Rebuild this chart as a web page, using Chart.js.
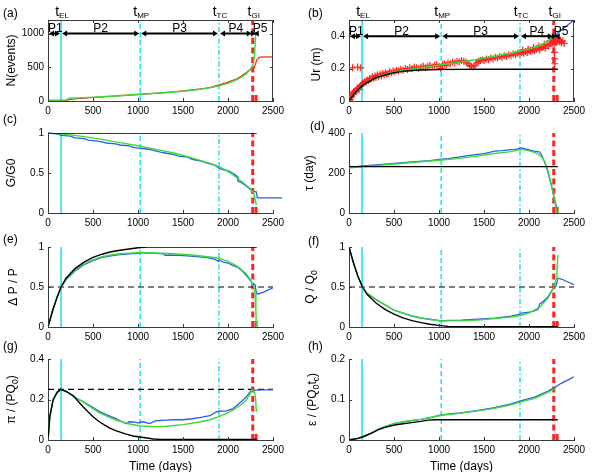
<!DOCTYPE html>
<html><head><meta charset="utf-8">
<script src="https://cdn.jsdelivr.net/npm/chart.js@4.4.1/dist/chart.umd.min.js"></script>
<style>html,body{margin:0;padding:0;background:#fff}body{width:594px;height:472px;position:relative;overflow:hidden}canvas{position:absolute}</style>
</head><body>
<script>
// ---------------- data ----------------
const xTicks = [0, 500, 1000, 1500, 2000, 2500];
const eventT = [145, 1025, 1900, 2275];
const eventNames = ['EL', 'MP', 'TC', 'GI'];
const gi2T = 2312;
const phaseB = [0, 145, 1025, 1900, 2275, 2320];
const phaseNames = ['P1', 'P2', 'P3', 'P4', 'P5'];

// (a) number of events
const aObsT = [0,100,200,250,300,400,500,600,700,800,900,1000,1100,1200,1300,1400,1500,1600,1700,1800,1900,2000,2100,2150,2200,2250,2290,2322,2352,2500];
const aObsN = [0,3,10,22,30,42,52,60,70,80,88,95,105,115,125,137,150,165,180,200,240,280,330,370,420,470,490,613,651,655];
const aModT = [0,20,200,240,400,600,800,1000,1200,1400,1600,1800,1900,2000,2100,2150,2200,2240,2278,2296,2307];
const aModN = [0,12,15,40,50,62,78,100,115,133,158,195,225,262,315,355,400,455,530,700,1000];
const aTicks = [0, 500, 1000];

// (b) radial displacement
const bObsT = [5,10,15,20,30,35,45,50,60,70,80,90,100,110,120,130,140,150,40,95,130,
160,175,190,200,215,230,245,260,275,290,300,315,330,345,360,375,390,405,420,435,450,470,490,
510,530,550,575,600,625,650,675,700,725,750,775,800,825,850,875,900,925,950,975,1000,1020,
1040,1060,1080,1100,1125,1150,1175,1200,1225,1250,1275,1300,1320,1340,1360,1380,1400,1420,1440,1460,1480,1500,
1525,1550,1575,1600,1625,1650,1675,1700,1725,1750,1775,1800,1825,1850,1875,1900,
1920,1940,1960,1980,2000,2020,2040,2060,2080,2100,2120,2140,2160,2180,2200,2220,2240,2260,
1930,1990,2050,2110,2170,2230,2250,
2270,2280,2282,2284,2286,2290,2300,2310,2320,2330,2340,2350,2360,2375,2390];
const bObsU = [0.005,0.02,0.01,0.03,0.025,0.045,0.04,0.055,0.05,0.065,0.06,0.075,0.08,0.07,0.09,0.095,0.1,0.105,0.205,0.21,0.205,
0.11,0.12,0.115,0.13,0.125,0.14,0.135,0.15,0.14,0.155,0.145,0.16,0.15,0.165,0.155,0.17,0.16,0.175,0.165,0.17,0.18,0.175,0.185,
0.18,0.19,0.185,0.195,0.19,0.2,0.195,0.205,0.2,0.21,0.205,0.2,0.21,0.215,0.205,0.215,0.22,0.21,0.22,0.225,0.215,0.2,
0.225,0.23,0.22,0.235,0.23,0.24,0.235,0.245,0.24,0.25,0.245,0.24,0.23,0.22,0.215,0.21,0.22,0.235,0.245,0.25,0.255,0.25,
0.26,0.255,0.265,0.26,0.27,0.265,0.275,0.27,0.28,0.275,0.285,0.28,0.29,0.285,0.295,0.29,
0.3,0.295,0.305,0.3,0.31,0.305,0.315,0.31,0.32,0.325,0.315,0.33,0.335,0.325,0.345,0.34,0.355,0.36,
0.315,0.32,0.33,0.34,0.35,0.37,0.375,
0.37,0.35,0.3,0.26,0.23,0.375,0.36,0.385,0.37,0.38,0.365,0.375,0.36,0.37,0.355];
const bBlackT = [0,50,100,150,200,300,400,500,600,700,800,900,1000,1200,1500,2000,2320];
const bBlackU = [0,0.038,0.07,0.095,0.114,0.144,0.161,0.175,0.183,0.188,0.191,0.193,0.194,0.195,0.196,0.196,0.196];
const bGreenT = [0,100,200,300,400,500,600,700,800,1000,1200,1400,1600,1800,1900,2000,2100,2200,2250,2290];
const bGreenU = [0,0.07,0.115,0.145,0.165,0.18,0.19,0.198,0.205,0.222,0.238,0.255,0.275,0.295,0.31,0.322,0.338,0.365,0.385,0.405];
const bBlueT = [2200,2250,2300,2400,2510];
const bBlueU = [0.365,0.388,0.41,0.455,0.505];
const bTicks = [0, 0.2, 0.4];

// (c) G/G0
const cBlackT = [0, 2320];
const cBlackG = [1, 1];
const cBlueT = [0,100,150,250,300,400,450,500,600,650,750,800,900,950,1000,1100,1150,1250,1300,1400,1450,1550,1600,1700,1750,1850,1900,1950,2000,2050,2100,2110,2150,2200,2250,2275,2315,2325,2600];
const cBlueG = [1,0.99,0.97,0.96,0.94,0.93,0.91,0.905,0.89,0.875,0.865,0.85,0.84,0.82,0.81,0.8,0.79,0.76,0.75,0.73,0.71,0.7,0.67,0.65,0.63,0.6,0.56,0.54,0.53,0.5,0.46,0.4,0.38,0.34,0.29,0.27,0.265,0.19,0.19];
const cGreenT = [0,200,400,600,800,1000,1200,1400,1600,1800,1900,2000,2100,2200,2250,2280,2300,2315];
const cGreenG = [1,0.985,0.955,0.92,0.88,0.84,0.795,0.75,0.69,0.62,0.58,0.52,0.44,0.35,0.3,0.26,0.18,0.1];
const cTicks = [0, 0.5, 1];

// (d) tau
const dBlackT = [0, 2320];
const dBlackV = [232, 232];
const dBlueT = [0,150,300,500,700,900,1000,1100,1250,1400,1500,1620,1700,1800,1850,1915,1950,2000,2060,2120,2140,2175,2210,2250,2285,2310];
const dBlueV = [227,235,240,248,255,262,268,272,282,292,297,309,312,317,318,326,322,316,309,304,290,253,203,135,68,20];
const dGreenT = [0,150,300,500,800,1000,1200,1400,1600,1800,1915,1990,2050,2100,2140,2175,2210,2250,2285,2311];
const dGreenV = [225,232,237,245,256,264,272,283,296,307,318,312,305,295,280,258,211,140,60,0];
const dTicks = [0, 200, 400];

// (e) dP/P
const eBlackT = [0,50,100,145,200,300,400,500,600,700,800,900,1000,1100,2320];
const eBlackV = [0,0.2,0.37,0.5,0.61,0.73,0.81,0.87,0.91,0.94,0.96,0.975,0.99,1,1];
const eGreenT = [0,50,100,145,200,300,400,500,600,700,800,1000,1200,1400,1600,1800,1900,2000,2100,2200,2250,2280,2300,2310,2315];
const eGreenV = [0,0.2,0.37,0.5,0.6,0.71,0.79,0.84,0.88,0.9,0.915,0.93,0.925,0.915,0.9,0.875,0.86,0.82,0.76,0.67,0.59,0.52,0.42,0.2,0];
const eBlueT = [0,50,100,145,200,300,400,500,600,700,800,900,1000,1050,1100,1200,1280,1300,1350,1450,1550,1650,1750,1850,1890,1900,1950,2000,2050,2100,2150,2200,2250,2280,2300,2315,2330,2400,2500];
const eBlueV = [0,0.2,0.37,0.5,0.59,0.7,0.78,0.83,0.87,0.89,0.905,0.915,0.92,0.93,0.925,0.92,0.915,0.895,0.9,0.895,0.89,0.88,0.87,0.85,0.82,0.84,0.81,0.8,0.77,0.75,0.71,0.65,0.58,0.53,0.53,0.43,0.41,0.44,0.49];
const eTicks = [0, 0.5, 1];

// (f) Q/Q0
const fBlackT = [0,50,100,150,200,300,400,500,600,700,800,900,1000,1100,1200,2320];
const fBlackV = [1,0.8,0.63,0.5,0.41,0.3,0.22,0.16,0.115,0.08,0.055,0.035,0.02,0.008,0.003,0.003];
const fGreenT = [0,50,100,150,200,320,500,700,880,1000,1250,1430,1620,1800,1915,2000,2060,2120,2175,2210,2250,2285,2300,2311,2322];
const fGreenV = [1,0.8,0.63,0.5,0.42,0.33,0.21,0.14,0.095,0.08,0.077,0.088,0.105,0.125,0.147,0.175,0.21,0.25,0.315,0.36,0.44,0.53,0.6,0.73,0.9];
const fBlueT = [0,50,100,150,200,320,500,700,800,880,950,1030,1100,1250,1430,1620,1800,1900,1915,2000,2063,2100,2119,2160,2211,2267,2290,2304,2322,2360,2500];
const fBlueV = [1,0.8,0.63,0.5,0.42,0.33,0.21,0.135,0.11,0.1,0.09,0.075,0.082,0.086,0.097,0.11,0.135,0.16,0.175,0.185,0.2,0.22,0.29,0.32,0.38,0.48,0.5,0.525,0.61,0.6,0.53];
const fTicks = [0, 0.5, 1];

// (g) pi/(PQ0)
const gBlackT = [0,20,56,100,141,200,278,389,500,574,680,759,860,944,1019,1100,1170,1250,2320];
const gBlackV = [0,0.115,0.197,0.235,0.25,0.24,0.22,0.164,0.115,0.089,0.06,0.045,0.03,0.02,0.015,0.01,0.005,0.003,0.003];
const gGreenT = [0,20,56,100,141,200,300,389,500,574,700,759,900,1019,1200,1315,1500,1685,1800,1907,2000,2056,2150,2204,2240,2267,2296,2307,2315];
const gGreenV = [0,0.115,0.197,0.235,0.25,0.24,0.21,0.188,0.155,0.134,0.108,0.098,0.08,0.069,0.066,0.068,0.076,0.089,0.1,0.117,0.135,0.147,0.175,0.197,0.225,0.25,0.233,0.205,0.139];
const gBlueT = [0,20,56,100,141,200,300,389,500,574,700,759,800,870,900,944,1000,1050,1130,1200,1315,1400,1500,1600,1685,1800,1870,1900,1981,2056,2150,2204,2267,2296,2333,2400,2500];
const gBlueV = [0,0.115,0.197,0.235,0.25,0.24,0.21,0.19,0.16,0.14,0.115,0.106,0.095,0.08,0.09,0.089,0.085,0.09,0.081,0.095,0.098,0.1,0.1,0.105,0.111,0.12,0.139,0.142,0.144,0.155,0.19,0.213,0.25,0.246,0.246,0.248,0.248];
const gRef = 0.25;
const gTicks = [0, 0.2, 0.4];

// (h) epsilon/(PQ0 tc)
const hBlackT = [0,100,156,250,322,400,507,600,693,800,878,950,2320];
const hBlackV = [0,0.004,0.008,0.017,0.025,0.031,0.037,0.04,0.043,0.046,0.049,0.05,0.05];
const hGreenT = [0,100,156,250,322,400,507,600,693,800,900,1026,1200,1433,1619,1800,1915,2063,2211,2285,2300];
const hGreenV = [0,0.004,0.008,0.017,0.026,0.033,0.041,0.045,0.048,0.051,0.055,0.061,0.065,0.072,0.078,0.087,0.094,0.103,0.118,0.127,0.129];
const hBlueT = [0,100,156,250,322,400,507,600,693,800,900,1026,1200,1433,1619,1800,1915,2063,2211,2285,2359,2430,2500];
const hBlueV = [0,0.004,0.008,0.017,0.026,0.033,0.041,0.045,0.048,0.051,0.055,0.062,0.066,0.073,0.08,0.089,0.097,0.106,0.121,0.13,0.14,0.148,0.156];
const hTicks = [0, 0.1, 0.2];

const halfRef = 0.5;

// ---------------- style ----------------
const FONT = '"Liberation Sans", Arial, Helvetica, sans-serif';
const CY = '#2fe0ec', RD = '#ff2222', GR = '#36dc36', BL = '#2d5ee6', BK = '#000000', AX = '#3a3a3a';

function pts(xs, ys) { return xs.map((x, i) => ({ x: x, y: ys[i] })); }
function ln(xs, ys, color, w, order, dash) {
  return { data: pts(xs, ys), borderColor: color, borderWidth: w, borderDash: dash || [], pointRadius: 0,
           fill: false, tension: 0, order: order, borderCapStyle: 'butt' };
}
function vl(x, y0, y1, color, w, dash) { return ln([x, x], [y0, y1], color, w, 20, dash); }
function hl(y, color, w, dash) { return ln([0, 2500], [y, y], color, w, 15, dash); }
function eventSets(ymin, ymax) {
  const span = ymax - ymin;
  return [
    vl(eventT[0], ymin, ymax, CY, 1.6, []),
    vl(eventT[1], ymin, ymax, CY, 1.6, [5, 3]),
    vl(eventT[2], ymin, ymax, CY, 1.6, [5, 2.5, 1.5, 2.5]),
    vl(eventT[3], ymin, ymax, RD, 3, [6, 3.5]),
    vl(gi2T, ymin, ymin + span * 0.085, RD, 3, [6, 3.5])
  ];
}

function drawRich(ctx, parts, x, y, size, subSize, subDy, align, rotate) {
  const widths = parts.map(p => { ctx.font = (p[1] ? subSize : size) + 'px ' + FONT; return ctx.measureText(p[0]).width; });
  const total = widths.reduce((a, b) => a + b, 0);
  ctx.save();
  ctx.translate(x, y);
  if (rotate) ctx.rotate(-Math.PI / 2);
  let cx = align === 'center' ? -total / 2 : (align === 'right' ? -total : 0);
  ctx.textAlign = 'left'; ctx.textBaseline = 'alphabetic'; ctx.fillStyle = '#000';
  parts.forEach((p, i) => {
    ctx.font = (p[1] ? subSize : size) + 'px ' + FONT;
    ctx.fillText(p[0], cx, p[1] ? subDy : 0);
    cx += widths[i];
  });
  ctx.restore();
}

const deco = {
  id: 'deco',
  afterDraw(chart) {
    const o = chart.options.plugins.deco;
    const ctx = chart.ctx, xs = chart.scales.x, ys = chart.scales.y, a = chart.chartArea;
    ctx.save();
    // inward tick marks
    ctx.strokeStyle = AX; ctx.lineWidth = 1;
    ctx.beginPath();
    xs.ticks.forEach(t => {
      const x = Math.round(xs.getPixelForValue(t.value)) + 0.5;
      ctx.moveTo(x, a.bottom); ctx.lineTo(x, a.bottom - 3);
      if (o.box) { ctx.moveTo(x, a.top); ctx.lineTo(x, a.top + 3); }
    });
    ys.ticks.forEach(t => {
      const y = Math.round(ys.getPixelForValue(t.value)) + 0.5;
      ctx.moveTo(a.left, y); ctx.lineTo(a.left + 3, y);
      if (o.box) { ctx.moveTo(a.right, y); ctx.lineTo(a.right - 3, y); }
    });
    if (o.box) {
      ctx.moveTo(a.left, Math.round(a.top) + 0.5); ctx.lineTo(a.right, Math.round(a.top) + 0.5);
      ctx.moveTo(Math.round(a.right) - 0.5, a.top); ctx.lineTo(Math.round(a.right) - 0.5, a.bottom);
    }
    ctx.stroke();
    // phase arrows
    if (o.arrowY !== undefined) {
      const py = ys.getPixelForValue(o.arrowY);
      ctx.fillStyle = '#000'; ctx.strokeStyle = '#000'; ctx.lineWidth = 2;
      for (let i = 0; i < phaseNames.length; i++) {
        const x0 = xs.getPixelForValue(phaseB[i]) + 1, x1 = xs.getPixelForValue(phaseB[i + 1]) - 1;
        ctx.beginPath(); ctx.moveTo(x0 + 3, py); ctx.lineTo(x1 - 3, py); ctx.stroke();
        ctx.beginPath(); ctx.moveTo(x0, py); ctx.lineTo(x0 + 5, py - 3); ctx.lineTo(x0 + 5, py + 3); ctx.closePath(); ctx.fill();
        ctx.beginPath(); ctx.moveTo(x1, py); ctx.lineTo(x1 - 5, py - 3); ctx.lineTo(x1 - 5, py + 3); ctx.closePath(); ctx.fill();
        ctx.font = '12px ' + FONT;
        const w = ctx.measureText(phaseNames[i]).width;
        const narrow = (x1 - x0) < w + 4;
        const lx = narrow ? x0 - 1 : (x0 + x1) / 2;
        drawRich(ctx, [[phaseNames[i], 0]], lx, py - 1.5, 12, 8, 0, narrow ? 'left' : 'center', false);
      }
    }
    // event labels
    if (o.events) {
      for (let i = 0; i < eventT.length; i++) {
        const x = xs.getPixelForValue(eventT[i]);
        drawRich(ctx, [['t', 0], [eventNames[i], 1]], x + 1, a.top - 4, 14, 8, 2, 'center', false);
      }
    }
    // y title
    drawRich(ctx, o.ytitle, a.left + o.ytx, (a.top + a.bottom) / 2 + (o.yty || 0), 12, 8.5, 3, 'center', true);
    // x title
    if (o.xtitle) drawRich(ctx, [['Time (days)', 0]], (a.left + a.right) / 2, a.bottom + 30, 12, 8, 0, 'center', false);
    // panel label
    drawRich(ctx, [[o.label, 0]], a.left + o.lx, a.top + o.ly, 12, 8, 0, 'left', false);
    ctx.restore();
  }
};

const PADL = 48, PADT = 28, PADR = 30, PADB = 34;
function makePanel(p) {
  const cv = document.createElement('canvas');
  const W = p.w + PADL + PADR, H = p.h + PADT + PADB;
  cv.width = W; cv.height = H;
  cv.style.width = W + 'px'; cv.style.height = H + 'px';
  cv.style.left = (p.l - PADL) + 'px'; cv.style.top = (p.t - PADT) + 'px';
  document.body.appendChild(cv);
  const tickFont = { family: FONT, size: 10 };
  new Chart(cv, {
    type: 'line',
    data: { datasets: p.datasets },
    options: {
      responsive: false, animation: false, devicePixelRatio: 1,
      layout: { padding: { left: 0, top: PADT, right: PADR, bottom: 0 } },
      scales: {
        x: {
          type: 'linear', min: 0, max: 2500,
          afterBuildTicks: s => { s.ticks = xTicks.map(v => ({ value: v })); },
          afterFit: s => { s.height = PADB; },
          grid: { display: false, drawTicks: false },
          border: { display: true, color: AX, width: 1 },
          ticks: { font: tickFont, color: '#000', padding: 4, maxRotation: 0, autoSkip: false, callback: v => String(v) }
        },
        y: {
          type: 'linear', min: p.ymin, max: p.ymax,
          afterBuildTicks: s => { s.ticks = p.yTicks.map(v => ({ value: v })); },
          afterFit: s => { s.width = PADL; },
          grid: { display: false, drawTicks: false },
          border: { display: true, color: AX, width: 1 },
          ticks: { font: tickFont, color: '#000', padding: 4, autoSkip: false, callback: v => String(v) }
        }
      },
      plugins: { legend: { display: false }, tooltip: { enabled: false }, deco: p.deco }
    },
    plugins: [deco]
  });
}

const LL = 48, RL = 349, PW = 225;
const ROW = [{ t: 20, h: 81 }, { t: 133, h: 80 }, { t: 247, h: 80 }, { t: 359, h: 81 }];
const crossSet = { data: pts(bObsT, bObsU), showLine: false, pointStyle: 'cross', pointRadius: 3.5, pointBorderColor: RD,
  pointBorderWidth: 1.2, borderColor: RD, order: 8 };

makePanel({ l: LL, t: ROW[0].t, w: PW, h: ROW[0].h, ymin: 0, ymax: 1200, yTicks: aTicks,
  datasets: [ln(aModT, aModN, GR, 1.4, 2), ln(aObsT, aObsN, RD, 1.2, 4)].concat(eventSets(0, 1200)),
  deco: { box: true, arrowY: 1000, events: true, ytitle: [['N(events)', 0]], ytx: -33, label: '(a)', lx: -45, ly: -3 } });

makePanel({ l: RL, t: ROW[0].t, w: PW, h: ROW[0].h, ymin: 0, ymax: 0.5, yTicks: bTicks,
  datasets: [ln(bBlackT, bBlackU, BK, 1.4, 1), ln(bGreenT, bGreenU, GR, 1.4, 2), ln(bBlueT, bBlueU, BL, 1.3, 3), crossSet].concat(eventSets(0, 0.5)),
  deco: { box: true, arrowY: 0.4, events: true, ytitle: [['Ur (m)', 0]], ytx: -29, yty: 4, label: '(b)', lx: -41, ly: -3 } });

makePanel({ l: LL, t: ROW[1].t, w: PW, h: ROW[1].h, ymin: 0, ymax: 1, yTicks: cTicks,
  datasets: [ln(cBlackT, cBlackG, BK, 1.4, 1), ln(cGreenT, cGreenG, GR, 1.4, 2), Object.assign(ln(cBlueT, cBlueG, BL, 1.3, 3), { clip: false })].concat(eventSets(0, 1)),
  deco: { box: false, ytitle: [['G/G0', 0]], ytx: -33, label: '(c)', lx: -45, ly: -10 } });

makePanel({ l: RL, t: ROW[1].t, w: PW, h: ROW[1].h, ymin: 0, ymax: 400, yTicks: dTicks,
  datasets: [ln(dBlackT, dBlackV, BK, 1.4, 1), ln(dGreenT, dGreenV, GR, 1.4, 2), ln(dBlueT, dBlueV, BL, 1.3, 3)].concat(eventSets(0, 400)),
  deco: { box: false, ytitle: [['τ (day)', 0]], ytx: -36, label: '(d)', lx: -39, ly: -3 } });

makePanel({ l: LL, t: ROW[2].t, w: PW, h: ROW[2].h, ymin: 0, ymax: 1, yTicks: eTicks,
  datasets: [ln(eBlackT, eBlackV, BK, 1.4, 1), ln(eGreenT, eGreenV, GR, 1.4, 2), ln(eBlueT, eBlueV, BL, 1.3, 3), hl(halfRef, BK, 1.2, [6, 4])].concat(eventSets(0, 1)),
  deco: { box: false, ytitle: [['Δ P / P', 0]], ytx: -31, label: '(e)', lx: -45, ly: -4 } });

makePanel({ l: RL, t: ROW[2].t, w: PW, h: ROW[2].h, ymin: 0, ymax: 1, yTicks: fTicks,
  datasets: [ln(fBlackT, fBlackV, BK, 1.4, 1), ln(fGreenT, fGreenV, GR, 1.4, 2), ln(fBlueT, fBlueV, BL, 1.3, 3), hl(halfRef, BK, 1.2, [6, 4])].concat(eventSets(0, 1)),
  deco: { box: false, ytitle: [['Q / Q', 0], ['0', 1]], ytx: -35, label: '(f)', lx: -41, ly: -2 } });

makePanel({ l: LL, t: ROW[3].t, w: PW, h: ROW[3].h, ymin: 0, ymax: 0.4, yTicks: gTicks,
  datasets: [ln(gBlackT, gBlackV, BK, 1.4, 1), ln(gGreenT, gGreenV, GR, 1.4, 2), ln(gBlueT, gBlueV, BL, 1.3, 3), hl(gRef, BK, 1.2, [6, 4])].concat(eventSets(0, 0.4)),
  deco: { box: false, xtitle: true, ytitle: [['π / (PQ', 0], ['0', 1], [')', 0]], ytx: -33, label: '(g)', lx: -45, ly: -9 } });

makePanel({ l: RL, t: ROW[3].t, w: PW, h: ROW[3].h, ymin: 0, ymax: 0.2, yTicks: hTicks,
  datasets: [ln(hBlackT, hBlackV, BK, 1.4, 1), ln(hGreenT, hGreenV, GR, 1.4, 2), ln(hBlueT, hBlueV, BL, 1.3, 3)].concat(eventSets(0, 0.2)),
  deco: { box: false, xtitle: true, ytitle: [['ε / (PQ', 0], ['0', 1], ['t', 0], ['c', 1], [')', 0]], ytx: -33, label: '(h)', lx: -41, ly: -9 } });
</script>
</body></html>
